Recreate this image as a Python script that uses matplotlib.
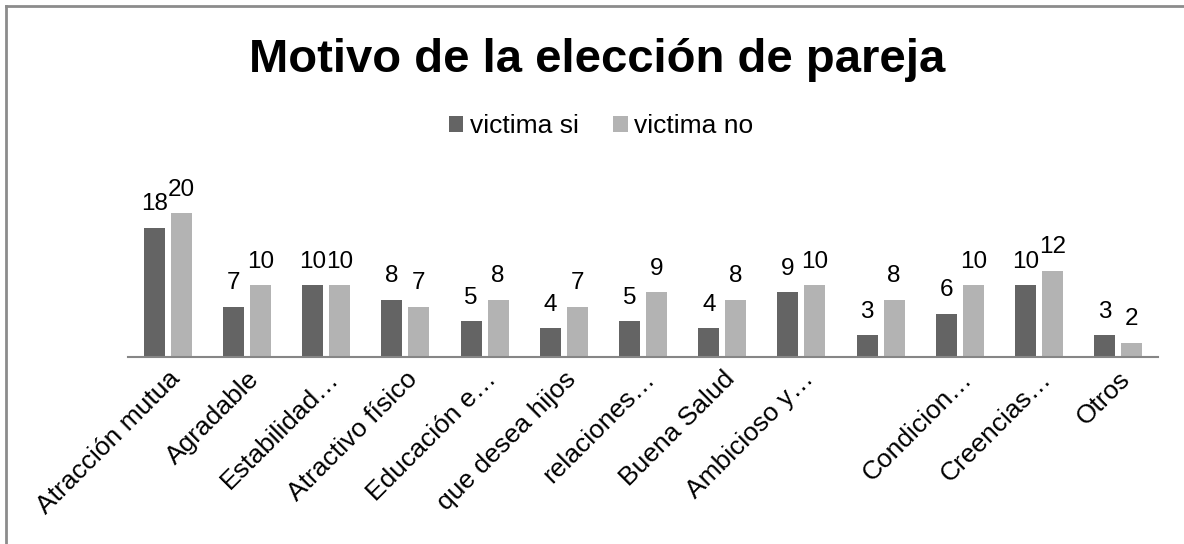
import matplotlib
matplotlib.use("Agg")
import matplotlib.pyplot as plt
from matplotlib.lines import Line2D
from matplotlib.patches import Patch
import numpy as np

plt.rcParams['font.family'] = ['Liberation Sans', 'DejaVu Sans']

title = "Motivo de la elección de pareja"
categories = ["Atracción mutua", "Agradable", "Estabilidad…", "Atractivo físico",
              "Educación e…", "que desea hijos", "relaciones…", "Buena Salud",
              "Ambicioso y…", "", "Condicion…", "Creencias…", "Otros"]
series_names = ["victima si", "victima no"]
victima_si = [18, 7, 10, 8, 5, 4, 5, 4, 9, 3, 6, 10, 3]
victima_no = [20, 10, 10, 7, 8, 7, 9, 8, 10, 8, 10, 12, 2]

colors = ["#646464", "#b3b3b3"]

W, H = 1184, 544
fig = plt.figure(figsize=(W / 100, H / 100), dpi=100)

ax_left, ax_right = 128, 1158
ax_bottom, ax_top = 357, 185
ax = fig.add_axes([ax_left / W, 1 - ax_bottom / H, (ax_right - ax_left) / W, (ax_bottom - ax_top) / H])

x = np.arange(len(categories))
bw = 0.265
off = 0.17
b1 = ax.bar(x - off, victima_si, width=bw, color=colors[0], label=series_names[0])
b2 = ax.bar(x + off, victima_no, width=bw, color=colors[1], label=series_names[1])

ax.set_xlim(-0.5, len(categories) - 0.5)
ax.set_ylim(0, (ax_bottom - ax_top) / 7.18)

for bars, vals in ((b1, victima_si), (b2, victima_no)):
    for rect, v in zip(bars, vals):
        ax.annotate(str(v), (rect.get_x() + rect.get_width() / 2, rect.get_height()),
                    xytext=(0, 12.6), textcoords='offset points', ha='center', va='baseline',
                    fontsize=17.5, color='black', annotation_clip=False)

for s in ['top', 'right', 'left']:
    ax.spines[s].set_visible(False)
ax.spines['bottom'].set_color('#868686')
ax.spines['bottom'].set_linewidth(1.5)
ax.set_yticks([])
ax.set_xticks(x)
ax.set_xticklabels(categories, rotation=45, ha='right', va='top', rotation_mode='anchor',
                   fontsize=19)
ax.tick_params(axis='x', length=0, pad=7)

# title
fig.text(597 / W, 1 - 72 / H, title, ha='center', va='baseline', fontsize=34, fontweight='bold')

# legend
handles = [Patch(facecolor=colors[0]), Patch(facecolor=colors[1])]
leg = fig.legend(handles, series_names, loc='center', bbox_to_anchor=(601 / W, 1 - 126 / H),
                 ncol=2, frameon=False, fontsize=19, handlelength=0.55, handleheight=0.55,
                 handletextpad=0.25, columnspacing=1.3, borderpad=0)

# border (top and left only, image is cropped)
fig.add_artist(Line2D([6 / W, 6 / W], [0, 1 - 6 / H], color='#8c8c8c', linewidth=2, transform=fig.transFigure))
fig.add_artist(Line2D([6 / W, 1], [1 - 6 / H, 1 - 6 / H], color='#8c8c8c', linewidth=2, transform=fig.transFigure))

fig.savefig("out.png", dpi=100, facecolor='white')
